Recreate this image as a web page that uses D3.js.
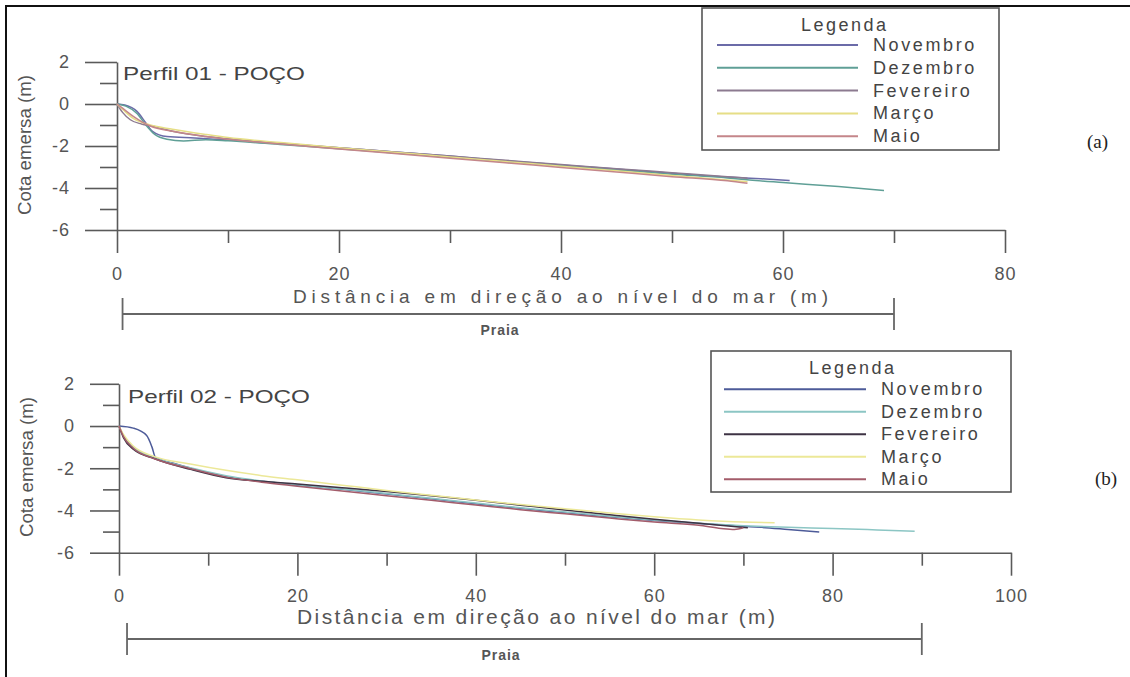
<!DOCTYPE html>
<html>
<head>
<meta charset="utf-8">
<script src="https://cdn.jsdelivr.net/npm/d3@7"></script>
<style>
body { margin: 0; background: #fff; }
svg { display: block; font-family: "Liberation Sans", Arial, sans-serif; }
.axis path, .axis line { stroke: #5a5a5a; stroke-width: 1.6; }
.axis text { font-family: "Liberation Sans", Arial, sans-serif; font-size: 18px; fill: #555; letter-spacing: 1px; }
</style>
</head>
<body>
<svg id="fig" width="1130" height="677"></svg>
<script>
var months = ['Novembro', 'Dezembro', 'Fevereiro', 'Março', 'Maio'];

var xTicks01 = [0, 20, 40, 60, 80];
var xMinor01 = [10, 30, 50, 70];
var xTicks02 = [0, 20, 40, 60, 80, 100];
var xMinor02 = [10, 30, 50, 70, 90];
var yTicks = [2, 0, -2, -4, -6];
var yMinor = [1, -1, -3, -5];

var praia01 = [0.5, 70];
var praia02 = [0.9, 90];

// Perfil 01 - [distancia, cota]
var p01_nov = [[0,0],[0.7,-0.05],[1.8,-0.35],[2.6,-0.9],[3.2,-1.3],[4.5,-1.55],[7,-1.62],[10,-1.72],[15,-1.9],[20,-2.08],[25,-2.28],[30,-2.48],[35,-2.7],[40,-2.9],[45,-3.1],[50,-3.3],[55,-3.48],[58,-3.56],[60.6,-3.64]];
var p01_dez = [[0,0],[0.8,-0.1],[1.8,-0.45],[2.6,-1.0],[3.4,-1.45],[4.5,-1.68],[6,-1.76],[8,-1.7],[10,-1.75],[15,-1.94],[20,-2.13],[25,-2.33],[30,-2.53],[35,-2.74],[40,-2.94],[45,-3.14],[50,-3.34],[55,-3.52],[57,-3.62],[60,-3.74],[65,-3.93],[69.1,-4.12]];
var p01_fev = [[0,0],[0.5,-0.4],[1.2,-0.75],[2.2,-0.95],[3.2,-1.05],[5,-1.3],[8,-1.55],[10,-1.66],[15,-1.88],[20,-2.08],[25,-2.28],[30,-2.48],[35,-2.68],[40,-2.88],[45,-3.08],[50,-3.27],[55,-3.46],[56.8,-3.53]];
var p01_mar = [[0,0],[0.6,-0.3],[1.5,-0.7],[3,-1.0],[5,-1.2],[8,-1.45],[10,-1.6],[15,-1.85],[20,-2.08],[25,-2.3],[30,-2.52],[35,-2.74],[40,-2.96],[45,-3.18],[50,-3.4],[55,-3.62],[56.8,-3.7]];
var p01_mai = [[0,0],[0.5,-0.2],[1.5,-0.6],[3,-1.05],[5,-1.3],[8,-1.55],[10,-1.68],[15,-1.92],[20,-2.14],[25,-2.36],[30,-2.58],[35,-2.8],[40,-3.02],[45,-3.24],[50,-3.46],[55,-3.66],[56.8,-3.78]];

// Perfil 02
var p02_nov = [[0,0],[1.6,-0.1],[3.1,-0.45],[3.7,-1.0],[4.1,-1.5],[6,-1.75],[8,-2.0],[12,-2.4],[16,-2.62],[20,-2.8],[25,-3.0],[30,-3.22],[35,-3.45],[40,-3.68],[45,-3.9],[50,-4.1],[55,-4.3],[60,-4.48],[65,-4.62],[70,-4.75],[72,-4.8],[75,-4.9],[78.5,-5.02]];
var p02_dez = [[0,0],[0.5,-0.45],[1.6,-1.0],[4,-1.5],[8,-1.98],[12,-2.35],[16,-2.6],[20,-2.78],[25,-2.98],[30,-3.2],[35,-3.42],[40,-3.65],[45,-3.87],[50,-4.07],[55,-4.27],[60,-4.45],[65,-4.6],[70,-4.72],[75,-4.8],[80,-4.85],[85,-4.92],[89.2,-4.98]];
var p02_fev = [[0,0],[0.5,-0.55],[1.6,-1.1],[4,-1.55],[8,-2.05],[12,-2.45],[16,-2.62],[20,-2.75],[25,-2.92],[30,-3.1],[35,-3.3],[40,-3.52],[45,-3.75],[50,-3.98],[55,-4.2],[60,-4.42],[65,-4.6],[70.5,-4.82]];
var p02_mar = [[0,0],[0.5,-0.4],[1.6,-0.95],[4,-1.45],[8,-1.8],[12,-2.1],[16,-2.35],[20,-2.55],[25,-2.8],[30,-3.05],[35,-3.28],[40,-3.5],[45,-3.72],[50,-3.92],[55,-4.12],[60,-4.3],[65,-4.45],[70,-4.55],[73.5,-4.58]];
var p02_mai = [[0,0],[0.5,-0.5],[1.6,-1.05],[4,-1.55],[8,-2.02],[12,-2.42],[16,-2.66],[20,-2.85],[25,-3.08],[30,-3.3],[35,-3.52],[40,-3.74],[45,-3.96],[50,-4.16],[55,-4.36],[60,-4.55],[65,-4.7],[67.5,-4.85],[69,-4.9],[70,-4.82]];

var colors01 = ['#6b6ba8', '#5f9f96', '#8c7a90', '#e6de86', '#c4868a'];
var colors02 = ['#4d5b99', '#8cc6c4', '#3e3344', '#ece898', '#a35c6a'];

var svg = d3.select('#fig');

// moldura
svg.append('path')
    .attr('d', 'M6,677 L6,6 L1130,6')
    .attr('fill', 'none')
    .attr('stroke', '#111')
    .attr('stroke-width', 2);

var panel = function(o) {
    var x = d3.scaleLinear().domain(o.xDomain).range(o.xRange);
    var y = d3.scaleLinear().domain([-6, 2]).range(o.yRange);
    var g = svg.append('g');

    // eixo y
    g.append('g').attr('class', 'axis')
        .attr('transform', 'translate(' + o.xRange[0] + ',0)')
        .call(d3.axisLeft(y).tickValues(yTicks).tickSize(o.yTickLen).tickSizeOuter(0)
            .tickPadding(15).tickFormat(function(d) { return String(d); }));
    g.append('g').attr('class', 'axis')
        .attr('transform', 'translate(' + o.xRange[0] + ',0)')
        .call(d3.axisLeft(y).tickValues(yMinor).tickSize(o.yMinorLen).tickFormat(''))
        .select('.domain').remove();

    // eixo x
    g.append('g').attr('class', 'axis')
        .attr('transform', 'translate(0,' + o.yRange[0] + ')')
        .call(d3.axisBottom(x).tickValues(o.xTicks).tickSize(23).tickSizeOuter(0)
            .tickPadding(14).tickFormat(function(d) { return String(d); }));
    g.append('g').attr('class', 'axis')
        .attr('transform', 'translate(0,' + o.yRange[0] + ')')
        .call(d3.axisBottom(x).tickValues(o.xMinor).tickSize(13).tickFormat(''))
        .select('.domain').remove();

    // perfis
    var line = d3.line()
        .x(function(d) { return x(d[0]); })
        .y(function(d) { return y(d[1]); })
        .curve(d3.curveMonotoneX);

    g.append('g').selectAll('path.perfil')
        .data(o.series)
        .enter()
        .append('path')
        .attr('class', 'perfil')
        .attr('d', line)
        .attr('fill', 'none')
        .attr('stroke', function(d, i) { return o.colors[i]; })
        .attr('stroke-width', 1.5);

    // titulos
    g.append('text')
        .attr('x', o.titleX).attr('y', o.titleY)
        .attr('textLength', o.titleLen).attr('lengthAdjust', 'spacingAndGlyphs')
        .attr('font-size', 19).attr('fill', '#444')
        .text(o.title);

    g.append('text')
        .attr('transform', 'translate(' + o.yLabelX + ',' + o.yLabelY + ') rotate(-90)')
        .attr('text-anchor', 'middle')
        .attr('textLength', 140).attr('lengthAdjust', 'spacingAndGlyphs')
        .attr('font-size', 18).attr('fill', '#555')
        .text('Cota emersa (m)');

    g.append('text')
        .attr('x', o.xLabelX).attr('y', o.xLabelY)
        .attr('textLength', o.xLabelLen).attr('lengthAdjust', 'spacing')
        .attr('font-size', o.xLabelSize).attr('fill', '#555')
        .text('Distância em direção ao nível do mar (m)');

    // praia
    var pr = g.append('g').attr('stroke', '#666').attr('stroke-width', 1.8);
    pr.append('line')
        .attr('x1', x(o.praia[0])).attr('x2', x(o.praia[1]))
        .attr('y1', o.praiaY).attr('y2', o.praiaY);
    o.praia.forEach(function(v) {
        pr.append('line')
            .attr('x1', x(v)).attr('x2', x(v))
            .attr('y1', o.praiaY - 16).attr('y2', o.praiaY + 16);
    });
    g.append('text')
        .attr('x', o.praiaTextX).attr('y', o.praiaY + 21)
        .attr('text-anchor', 'middle')
        .attr('font-size', 14).attr('font-weight', 'bold').attr('fill', '#555')
        .attr('letter-spacing', 1)
        .text('Praia');

    // legenda
    var lg = g.append('g');
    lg.append('rect')
        .attr('x', o.leg.x).attr('y', o.leg.y)
        .attr('width', o.leg.w).attr('height', o.leg.h)
        .attr('fill', '#fff').attr('stroke', '#555').attr('stroke-width', 1.6);
    lg.append('text')
        .attr('x', o.leg.titleX).attr('y', o.leg.y + 23)
        .attr('font-size', 18).attr('fill', '#444')
        .attr('letter-spacing', 2.5)
        .text('Legenda');
    var items = lg.selectAll('g.item')
        .data(months)
        .enter()
        .append('g')
        .attr('class', 'item')
        .attr('transform', function(d, i) { return 'translate(0,' + (o.leg.row0 + i * o.leg.step) + ')'; });
    items.append('line')
        .attr('x1', o.leg.lineX0).attr('x2', o.leg.lineX1)
        .attr('y1', 0).attr('y2', 0)
        .attr('stroke', function(d, i) { return o.colors[i]; })
        .attr('stroke-width', 2);
    items.append('text')
        .attr('x', o.leg.textX).attr('y', 6)
        .attr('font-size', 18).attr('fill', '#444')
        .attr('letter-spacing', 2.6)
        .text(function(d) { return d; });

    svg.append('text')
        .attr('x', o.tagX).attr('y', o.tagY)
        .attr('font-family', '"Liberation Serif", "Times New Roman", serif')
        .attr('font-size', 19).attr('fill', '#222')
        .text(o.tag);
};

panel({
    xDomain: [0, 80], xRange: [117, 1005], yRange: [230, 62],
    xTicks: xTicks01, xMinor: xMinor01, yTickLen: 32, yMinorLen: 17,
    series: [p01_nov, p01_dez, p01_fev, p01_mar, p01_mai], colors: colors01,
    title: 'Perfil 01 - POÇO', titleX: 123, titleY: 80, titleLen: 182,
    yLabelX: 31, yLabelY: 145,
    xLabelX: 293, xLabelY: 303, xLabelLen: 535, xLabelSize: 19,
    praia: praia01, praiaY: 314, praiaTextX: 500,
    leg: { x: 702, y: 8, w: 297, h: 142, titleX: 801, row0: 45, step: 22.8,
           lineX0: 717, lineX1: 858, textX: 873 },
    tag: '(a)', tagX: 1087, tagY: 148
});

panel({
    xDomain: [0, 100], xRange: [119, 1011], yRange: [552.7, 383.8],
    xTicks: xTicks02, xMinor: xMinor02, yTickLen: 29, yMinorLen: 16,
    series: [p02_nov, p02_dez, p02_fev, p02_mar, p02_mai], colors: colors02,
    title: 'Perfil 02 - POÇO', titleX: 128, titleY: 403, titleLen: 182,
    yLabelX: 33, yLabelY: 467,
    xLabelX: 297, xLabelY: 624, xLabelLen: 478, xLabelSize: 21,
    praia: praia02, praiaY: 639, praiaTextX: 501,
    leg: { x: 711, y: 351, w: 300, h: 141, titleX: 809, row0: 389.3, step: 22.5,
           lineX0: 724, lineX1: 866, textX: 881 },
    tag: '(b)', tagX: 1095, tagY: 485
});
</script>
</body>
</html>
